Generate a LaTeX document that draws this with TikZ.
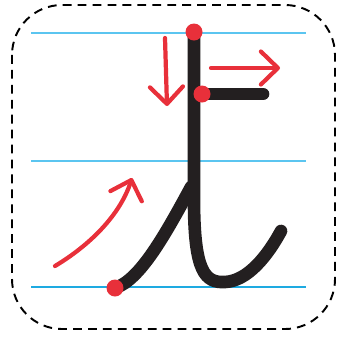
\documentclass[tikz,border=0pt]{standalone}
\usepackage{xcolor}
\usepackage{tikz}
\usetikzlibrary{arrows.meta}
\definecolor{inkblack}{HTML}{231F20}
\definecolor{penred}{HTML}{E8303A}
\definecolor{lineblue}{HTML}{5BC5F0}
\definecolor{baseblue}{HTML}{1EAAE1}

\begin{document}
\begin{tikzpicture}[
  x=0.02cm, y=-0.02cm,
  frame/.style={draw=black,line width=1.1pt,dash pattern=on 5pt off 3.5pt,rounded corners=1cm},
  guide/.style={draw=lineblue,line width=1pt},
  baseline/.style={draw=baseblue,line width=1.5pt},
  stroke/.style={draw=inkblack,line width=7.2pt,line cap=round,line join=round},
  hint/.style={draw=penred,line width=2.4pt,line cap=round,-{Straight Barb[length=0.34cm,width=0.66cm,round]}},
  startdot/.style={fill=penred}
]
\useasboundingbox (0,0) rectangle (350,336);
% frame and writing lines
\draw[frame] (12,5) rectangle (335,329);
\draw[guide] (31,33) -- (306,33);
\draw[guide] (31,161) -- (306,161);
\draw[baseline] (31,287) -- (306,287);
% stroke points
\coordinate (top) at (194,32);
\coordinate (bar) at (202,94);
\coordinate (barend) at (263,94);
\coordinate (foot) at (115,288);
\coordinate (join) at (191,187);
\coordinate (tail) at (281,231);
% the letter
\draw[stroke] (top) -- (194,200) .. controls (194,272) and (205,283) .. (225,282)
  .. controls (248,281) and (268,255) .. (tail);
\draw[stroke] (bar) -- (barend);
\draw[stroke] (foot) .. controls (140,280) and (165,235) .. (join);
% direction hints
\draw[hint] (165,38) -- (167,106);
\draw[hint] (211,68) -- (280,68);
\draw[hint] (55,266) .. controls (90,245) and (120,215) .. (132,178);
% start points
\fill[startdot] (top) circle[radius=0.17cm];
\fill[startdot] (bar) circle[radius=0.17cm];
\fill[startdot] (foot) circle[radius=0.17cm];
\end{tikzpicture}
\end{document}
